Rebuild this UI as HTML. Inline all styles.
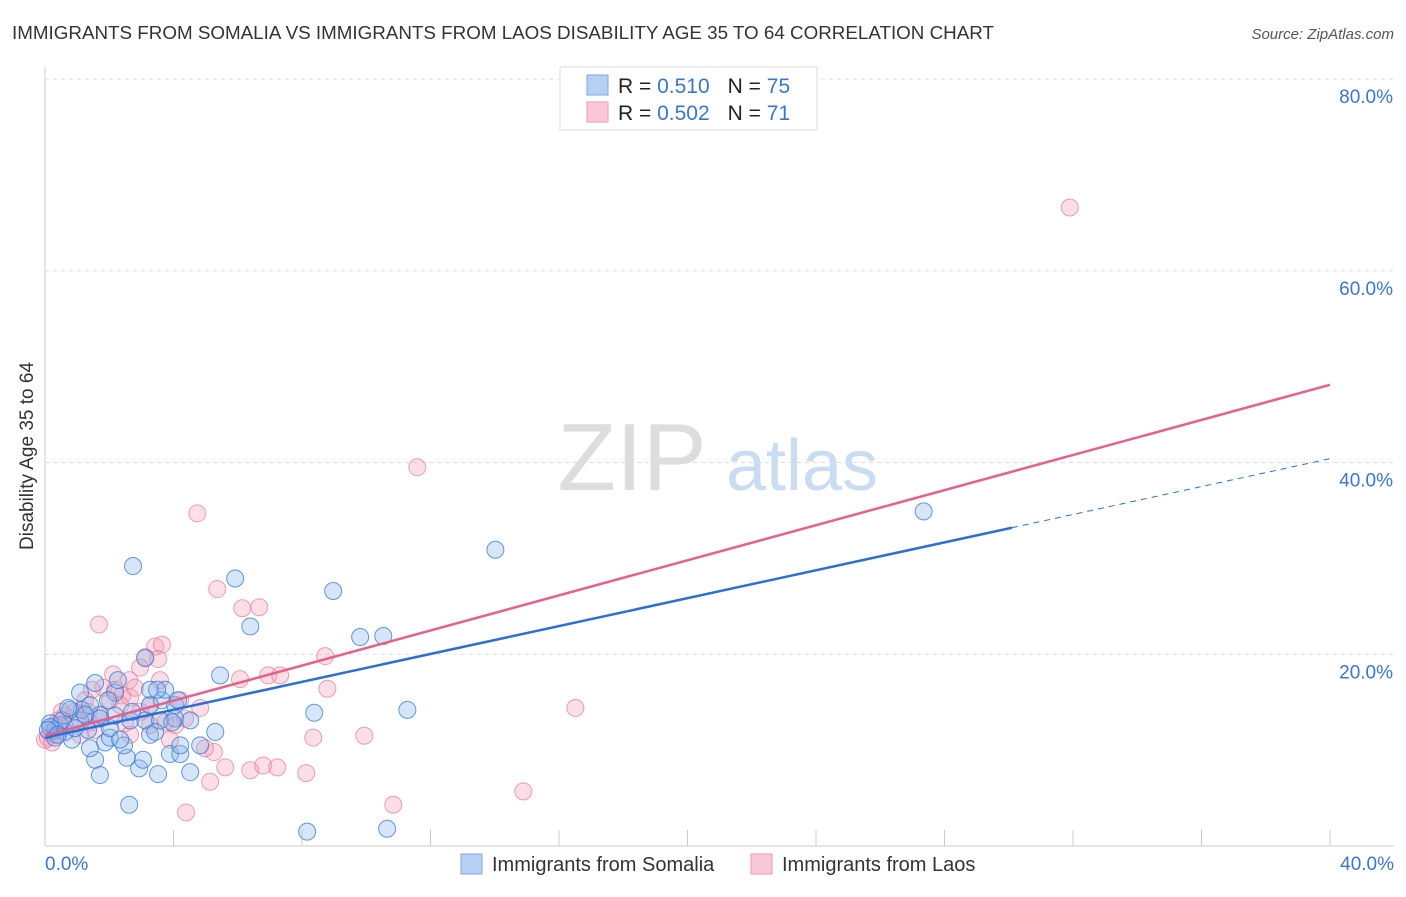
<!DOCTYPE html>
<html><head><meta charset="utf-8"><style>
body{margin:0;background:#fff;font-family:"Liberation Sans",sans-serif;}
svg text{font-family:"Liberation Sans",sans-serif;}
</style></head><body>
<svg id="chart" width="1406" height="892" xmlns="http://www.w3.org/2000/svg">
<text x="12" y="39" font-size="18" fill="#333" textLength="982" lengthAdjust="spacingAndGlyphs">IMMIGRANTS FROM SOMALIA VS IMMIGRANTS FROM LAOS DISABILITY AGE 35 TO 64 CORRELATION CHART</text>
<text x="1394" y="39" font-size="15" fill="#555" text-anchor="end" font-style="italic">Source: ZipAtlas.com</text>
<text transform="translate(33,456) rotate(-90)" font-size="19" fill="#333" text-anchor="middle">Disability Age 35 to 64</text>
<g>
<text x="632" y="490" font-size="96" fill="#ddd" text-anchor="middle" font-family="Liberation Serif">ZIP</text>
<text x="802" y="490" font-size="72" fill="#c9dcf2" text-anchor="middle">atlas</text>
</g>
<g id="grid"></g><g id="axes"></g><g id="pts"></g><g id="lines"></g>
<g>
<rect x="560" y="67" width="257" height="63" fill="#fff" stroke="#ddd"/>
<rect x="587" y="75" width="21" height="20" fill="#b5d0f2" stroke="#7aa9e6"/>
<rect x="587" y="102" width="21" height="20" fill="#fac8d6" stroke="#ef9ab3"/>
<text x="618" y="93" font-size="21" fill="#222">R = <tspan fill="#3a76d0"> 0.510</tspan><tspan fill="#222" dx="18">N = </tspan><tspan fill="#3a76d0">75</tspan></text>
<text x="618" y="120" font-size="21" fill="#222">R = <tspan fill="#3a76d0">0.502</tspan><tspan fill="#222" dx="18">N = </tspan><tspan fill="#3a76d0"> 71</tspan></text>
</g>
<g>
<rect x="461" y="854" width="21" height="20" fill="#b5d0f2" stroke="#7aa9e6"/>
<text x="492" y="871" font-size="20" fill="#333">Immigrants from Somalia</text>
<rect x="751" y="854" width="21" height="20" fill="#fac8d6" stroke="#ef9ab3"/>
<text x="782" y="871" font-size="20" fill="#333">Immigrants from Laos</text>
</g>
</svg>
<script>
const yTicks=[20,40,60,80];
const yTickLabels=["20.0%","40.0%","60.0%","80.0%"];
const xTickLabels=["0.0%","40.0%"];
const blueX=[2.74,5.92,6.39,8.97,9.81,10.53,14.02,27.35,11.28,8.38,5.45,8.16,10.65,2.62,3.52,4.52,1.71,1.56,2.93,2.55,3.05,3.89,4.21,5.30,4.83,4.21,2.46,1.87,2.02,1.40,0.84,0.47,0.16,0.31,0.62,1.09,1.34,1.71,2.02,2.18,2.65,3.12,3.58,4.05,4.52,3.27,3.64,4.05,3.74,3.27,3.49,1.09,1.56,2.18,2.27,1.96,1.15,1.40,0.78,0.53,3.12,3.27,3.43,4.14,2.71,0.16,0.31,2.34,3.96,1.71,0.09,0.93,0.40,0.72,1.25];
const blueY=[29.2,27.9,22.9,26.6,21.8,21.9,30.9,34.9,14.2,13.9,17.8,1.5,1.8,4.3,7.5,7.7,7.4,9.0,8.1,9.2,9.0,9.6,9.6,11.9,10.5,10.5,10.5,10.8,11.3,10.2,11.1,12.6,12.8,12.1,11.9,13.1,12.1,13.7,12.3,13.6,13.1,13.1,13.1,13.3,13.1,14.7,15.2,14.7,16.3,16.3,16.3,16.0,17.0,16.0,17.3,15.2,14.2,14.7,14.2,13.1,19.6,11.6,11.9,15.2,14.0,12.4,11.3,11.1,12.9,13.3,12.1,12.3,11.6,14.4,13.7];
const pinkX=[31.9,11.59,4.74,5.36,6.14,6.67,8.72,8.79,9.94,8.35,10.84,14.89,16.51,4.39,5.14,5.61,6.39,6.79,7.23,8.13,6.95,7.32,6.07,5.26,4.98,1.68,3.43,3.64,3.52,3.12,2.96,2.12,2.62,2.40,2.65,1.81,1.46,3.58,4.21,4.83,4.05,3.74,4.36,3.27,2.34,2.02,1.25,0.93,0.62,0.31,0.0,0.16,0.47,0.78,1.40,1.71,2.49,2.96,1.56,1.09,2.65,3.27,0.09,0.22,0.40,2.18,2.80,3.89,1.34,0.53,0.31];
const pinkY=[66.6,39.5,34.7,26.8,24.8,24.9,19.8,16.4,11.5,11.3,4.3,5.7,14.4,3.5,6.7,8.2,7.9,8.4,8.2,7.6,17.8,17.8,17.4,9.8,10.2,23.1,20.8,21.0,19.5,19.7,18.6,17.9,17.3,15.7,15.5,16.5,16.3,17.3,15.2,14.4,12.6,12.9,13.3,14.7,14.7,15.2,15.2,14.0,13.6,12.6,11.1,11.8,12.1,12.9,12.9,13.6,12.8,14.0,12.1,11.6,11.6,12.6,11.3,10.8,13.1,16.3,16.5,11.1,14.0,14.0,11.6];
const blueLine=[11.3,40.4];
const blueSolidEnd=30.1;
const pinkLine=[11.5,48.1];
const NS="http://www.w3.org/2000/svg";
const X=v=>45+v*(1330-45)/40;
const Y=v=>846-v*(846-79)/80;
function mk(t,a,p){const e=document.createElementNS(NS,t);for(const k in a)e.setAttribute(k,a[k]);p.appendChild(e);return e;}
const grid=document.getElementById('grid'),axes=document.getElementById('axes'),pts=document.getElementById('pts'),lines=document.getElementById('lines');
yTicks.forEach((t,i)=>{
const g=mk('line',{x1:45,x2:1394,y1:Y(t),y2:Y(t),stroke:'#ddd','stroke-dasharray':'4,4'},grid);


const l=mk('text',{x:1393,y:Y(t)+24,'font-size':19,fill:'#3a76d0','text-anchor':'end'},axes);
l.textContent=yTickLabels[i];


});
const ax=mk('line',{x1:45,x2:1394,y1:846,y2:846,stroke:'#ccc'},axes);


const ay=mk('line',{x1:45,x2:45,y1:67,y2:846,stroke:'#ccc'},axes);


for(let i=0;i<=10;i++){
const tk=mk('line',{x1:X(i*4),x2:X(i*4),y1:830,y2:846,stroke:'#ccc'},axes);


}
[[0,'start',45],[40,'end',1394]].forEach((d,i)=>{
const t=mk('text',{x:d[2],y:870,'font-size':19,fill:'#3a76d0','text-anchor':d[1]},axes);
t.textContent=xTickLabels[i];


});
pinkX.forEach((x,i)=>{
const c=mk('circle',{cx:X(x),cy:Y(pinkY[i]),r:8.5,fill:'rgba(245,160,185,0.35)',stroke:'rgba(232,120,155,0.7)','stroke-width':1},pts);


});
blueX.forEach((x,i)=>{
const c=mk('circle',{cx:X(x),cy:Y(blueY[i]),r:8.5,fill:'rgba(140,180,235,0.35)',stroke:'rgba(50,120,210,0.75)','stroke-width':1},pts);


});
const by=x=>blueLine[0]+(blueLine[1]-blueLine[0])*x/40;
const b1=mk('line',{x1:X(0),y1:Y(blueLine[0]),x2:X(blueSolidEnd),y2:Y(by(blueSolidEnd)),stroke:'#2b6fd6','stroke-width':2.5},lines);


const b2=mk('line',{x1:X(blueSolidEnd),y1:Y(by(blueSolidEnd)),x2:X(40),y2:Y(blueLine[1]),stroke:'#2b6fd6','stroke-width':1,'stroke-dasharray':'6,5'},lines);


const p1=mk('line',{x1:X(0),y1:Y(pinkLine[0]),x2:X(40),y2:Y(pinkLine[1]),stroke:'#e8608a','stroke-width':2.5},lines);


</script>
</body></html>
